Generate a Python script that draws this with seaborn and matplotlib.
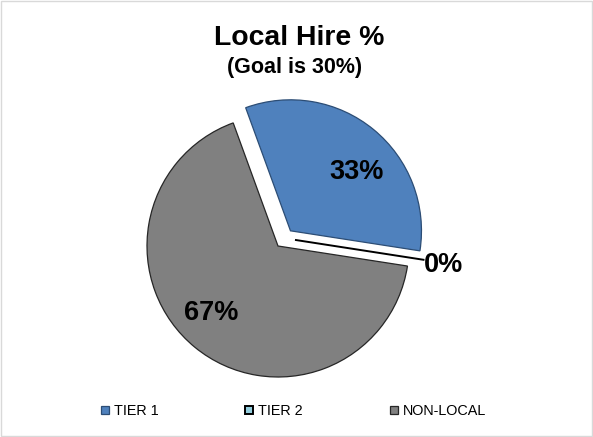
import numpy as np
import matplotlib
matplotlib.use("Agg")
import matplotlib.pyplot as plt
import seaborn as sns

sns.set_style("white")
plt.rcParams['font.family'] = ['Liberation Sans', 'DejaVu Sans']
plt.rcParams['text.color'] = 'black'

# data
categories = ['TIER 1', 'TIER 2', 'NON-LOCAL']
values = [33, 0, 67]
colors = ['#4F81BD', '#93CDDD', '#808080']
edge_colors = ['#2c4d75', '#000000', '#262626']

W, H = 593, 437
fig = plt.figure(figsize=(W / 100, H / 100), dpi=100)

# pie centre and radius in pixels
cx, cy, R = 278, 246, 131
L = 1.6
ax = fig.add_axes([(cx - L * R) / W, (H - cy - L * R) / H, 2 * L * R / W, 2 * L * R / H])

wedges, texts, autotexts = ax.pie(
    values, colors=colors, explode=[0.15, 0, 0], startangle=110,
    counterclock=False, autopct='%1.0f%%', pctdistance=0.7,
    wedgeprops=dict(linewidth=0.9),
    textprops=dict(fontsize=19.5, fontweight='bold', color='black'))
for w, ec in zip(wedges, edge_colors):
    w.set_edgecolor(ec)
    w.set_clip_on(False)

# Excel puts the inside labels a bit clockwise of the slice middle
drop = np.array([0, -0.03])
for w, t in zip(wedges, autotexts):
    a = np.deg2rad((w.theta1 + w.theta2) / 2 - 7)
    c = np.array(w.center)
    t.set_position(tuple(c + 0.7 * np.array([np.cos(a), np.sin(a)]) + drop))

# zero slice: pulled out a little, Excel style, label outside
w2 = wedges[1]
w2.set_linewidth(1.4)
ang = np.deg2rad((w2.theta1 + w2.theta2) / 2)
u = np.array([np.cos(ang), np.sin(ang)])
n = np.array([-np.sin(ang), np.cos(ang)])
c2 = 0.121 * u + 0.066 * n
w2.set_center(tuple(c2))
autotexts[1].set_position(tuple(c2 + 1.15 * u + drop / 2))

ax.set_xlim(-L, L)
ax.set_ylim(-L, L)
ax.set_aspect('equal')
ax.axis('off')

fig.text(0.505, 1 - 45 / H, 'Local Hire %', ha='center', va='baseline',
         fontsize=20.4, fontweight='bold')
fig.text(0.497, 1 - 73 / H, '(Goal is 30%)', ha='center', va='baseline',
         fontsize=15.5, fontweight='bold')

fig.legend(wedges, categories, loc='center', bbox_to_anchor=(0.495, 1 - 411 / H),
           ncol=3, frameon=False, fontsize=10.4, handlelength=0.55, handleheight=0.55,
           handletextpad=0.35, columnspacing=6.0, labelcolor='black')

border = plt.Rectangle((0.002, 0.002), 0.996, 0.996, transform=fig.transFigure,
                       fill=False, edgecolor='#d9d9d9', linewidth=1)
fig.patches.append(border)

fig.savefig('out.png', dpi=100)
